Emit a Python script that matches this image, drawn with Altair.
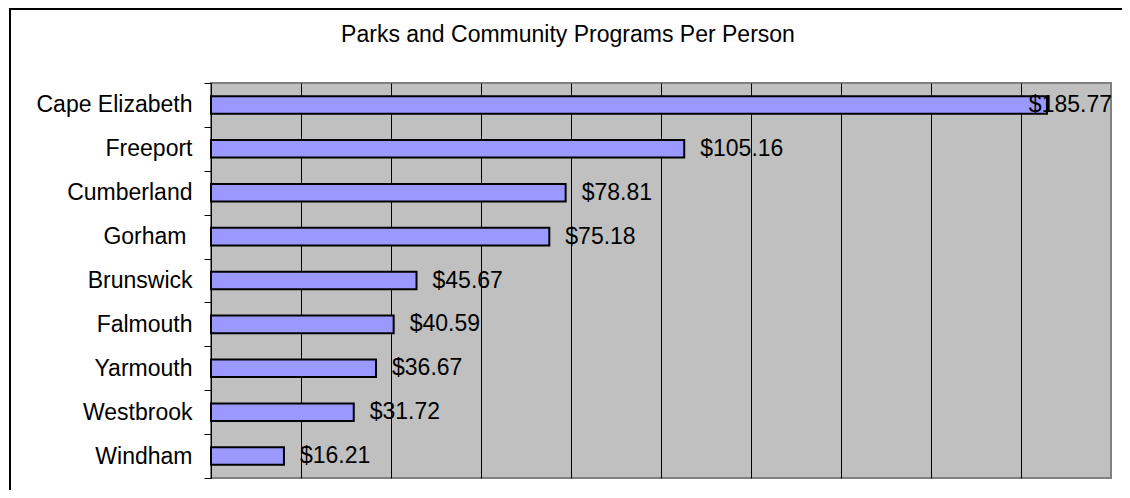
import altair as alt
import pandas as pd

towns = ["Cape Elizabeth", "Freeport", "Cumberland", "Gorham ", "Brunswick",
         "Falmouth", "Yarmouth", "Westbrook", "Windham"]
per_person = [185.77, 105.16, 78.81, 75.18, 45.67, 40.59, 36.67, 31.72, 16.21]
grid_values = [20, 40, 60, 80, 100, 120, 140, 160, 180]
title_text = "Parks and Community Programs Per Person"

df = pd.DataFrame({"town": towns, "value": per_person})

FONT = "Liberation Sans"
FS = 23

x_scale = alt.Scale(domain=[0, 200], nice=False, zero=True)
y_scale = alt.Scale(paddingInner=0, paddingOuter=0)

base = alt.Chart(df)

bars = base.mark_bar(color="#9999FF", stroke="black", strokeWidth=2,
                     height={"band": 0.4}).encode(
    x=alt.X("value:Q", scale=x_scale,
            axis=alt.Axis(values=grid_values, grid=True, gridColor="black", gridWidth=1,
                          gridOpacity=1, labels=False, ticks=False, domain=False, title=None)),
    y=alt.Y("town:N", sort=towns, scale=y_scale,
            axis=alt.Axis(title=None, domain=True, domainColor="black", domainWidth=1,
                          ticks=True, tickColor="black", tickSize=7, tickWidth=1,
                          tickBand="extent", labelFontSize=FS, labelColor="black",
                          labelFont=FONT, labelLimit=400,
                          labelPadding={"condition": {"test": "datum.value === 'Gorham '",
                                                      "value": 18},
                                        "value": 12})),
)

labels = base.transform_filter("datum.value < 170").mark_text(
    align="left", baseline="middle", dx=16, fontSize=FS, font=FONT, color="black"
).encode(
    x=alt.X("value:Q", scale=x_scale),
    y=alt.Y("town:N", sort=towns, scale=y_scale),
    text=alt.Text("value:Q", format="$.2f"),
)

labels_big = base.transform_filter("datum.value >= 170").mark_text(
    align="right", baseline="middle", dx=1, fontSize=FS, font=FONT, color="black"
).encode(
    x=alt.datum(200, scale=x_scale),
    y=alt.Y("town:N", sort=towns, scale=y_scale),
    text=alt.Text("value:Q", format="$.2f"),
)

title_mark = alt.Chart(pd.DataFrame({"t": [title_text]})).mark_text(
    align="center", baseline="alphabetic", fontSize=FS, font=FONT, color="black"
).encode(text="t:N", x=alt.value(357), y=alt.value(-41))

frame_left = base.mark_rule(color="black", strokeWidth=2).encode(
    x=alt.value(-201), y=alt.value(-75), y2=alt.value(420)
)
frame_top = base.mark_rule(color="black", strokeWidth=2).encode(
    x=alt.value(-202), x2=alt.value(915), y=alt.value(-74)
)

chart = alt.layer(bars, labels, labels_big, title_mark, frame_left, frame_top).properties(
    width=900,
    height=395,
    autosize=alt.AutoSizeParams(type="none"),
    padding={"left": 203, "top": 75, "right": 11, "bottom": 12},
    view=alt.ViewBackground(fill="#C0C0C0", stroke="#808080", strokeWidth=2),
).configure(
    background="white", font=FONT
)

chart.save("out.html", embed_options={"renderer": "svg", "actions": False})
